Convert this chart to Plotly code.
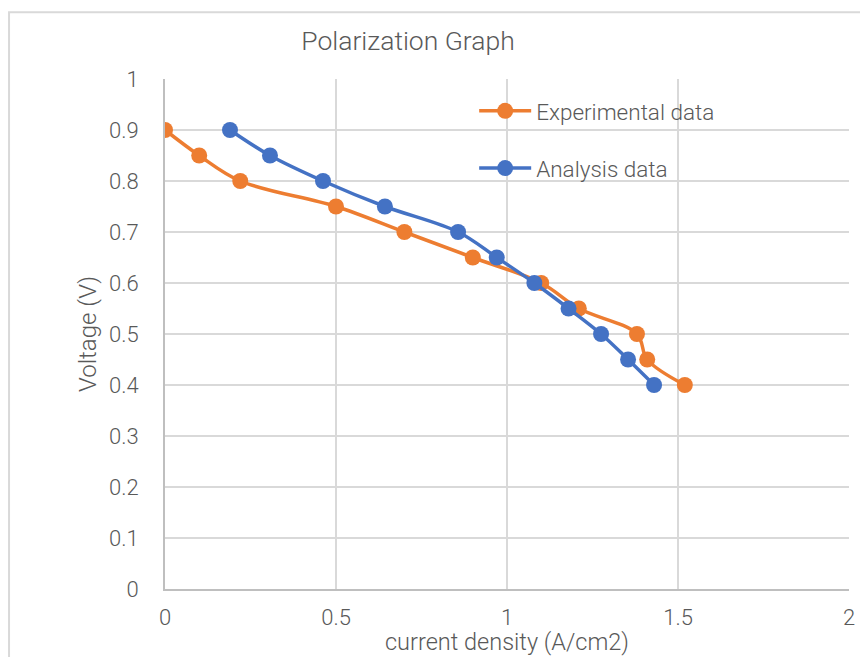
import plotly.graph_objects as go

exp_current = [0.0, 0.10, 0.22, 0.50, 0.70, 0.90, 1.10, 1.21, 1.38, 1.41, 1.52]
exp_voltage = [0.90, 0.85, 0.80, 0.75, 0.70, 0.65, 0.60, 0.55, 0.50, 0.45, 0.40]

# Analysis data
ana_current = [0.19, 0.307, 0.462, 0.643, 0.857, 0.97, 1.08, 1.18, 1.275, 1.354, 1.43]
ana_voltage = [0.90, 0.85, 0.80, 0.75, 0.70, 0.65, 0.60, 0.55, 0.50, 0.45, 0.40]

x_ticks = [0, 0.5, 1, 1.5, 2]
x_labels = ['0', '0.5', '1', '1.5', '2']
y_ticks = [0, 0.1, 0.2, 0.3, 0.4, 0.5, 0.6, 0.7, 0.8, 0.9, 1]
y_labels = ['0', '0.1', '0.2', '0.3', '0.4', '0.5', '0.6', '0.7', '0.8', '0.9', '1']

FONT = "Roboto, sans-serif"
TEXT = '#595959'
ORANGE = '#ED7D31'
BLUE = '#4472C4'

# page has an 8px body margin, so the figure is sized 8px smaller
W, H = 860, 649

fig = go.Figure()

fig.add_trace(go.Scatter(
    x=exp_current, y=exp_voltage,
    mode='lines+markers',
    name='Experimental data',
    legendgroup='exp',
    line=dict(color=ORANGE, width=3.5, shape='spline', smoothing=1),
    marker=dict(color=ORANGE, size=16),
))
fig.add_trace(go.Scatter(
    x=ana_current, y=ana_voltage,
    mode='lines+markers',
    name='Analysis data',
    legendgroup='ana',
    line=dict(color=BLUE, width=3.5, shape='spline', smoothing=1),
    marker=dict(color=BLUE, size=16),
))

# light grey chart-area frame
fig.add_shape(
    type='rect', xref='paper', yref='paper',
    x0=-0.228, x1=1.2, y0=-0.3, y1=1.131,
    line=dict(color='#D9D9D9', width=2), fillcolor='rgba(0,0,0,0)',
    layer='below',
)

# axis titles
fig.add_annotation(
    text='current density (A/cm2)', xref='paper', yref='paper',
    x=0.5, y=-53 / 510, xanchor='center', yanchor='middle', showarrow=False,
    font=dict(size=23.5, color=TEXT, weight=300),
)
fig.add_annotation(
    text='Voltage (V)', xref='paper', yref='paper', textangle=-90,
    x=-77 / 684, y=0.5, xanchor='center', yanchor='middle', showarrow=False,
    font=dict(size=24, color=TEXT, weight=300),
)

fig.update_layout(
    width=W, height=H,
    margin=dict(l=157, r=19, t=71, b=68),
    paper_bgcolor='white', plot_bgcolor='white',
    font=dict(family=FONT, color=TEXT, size=22, weight=300),
    title=dict(text='Polarization Graph', x=400 / W, xref='container', xanchor='center',
               y=1 - 33 / H, yanchor='middle', font=dict(size=26.5, color=TEXT, weight=300)),
    xaxis=dict(
        range=[0, 2], tickmode='array', tickvals=x_ticks, ticktext=x_labels,
        showgrid=True, gridcolor='#D9D9D9', gridwidth=2,
        showline=True, linecolor='#BFBFBF', linewidth=2,
        zeroline=False, ticks='', ticklabelstandoff=8, automargin=False,
    ),
    yaxis=dict(
        range=[0, 1], tickmode='array', tickvals=y_ticks, ticktext=y_labels,
        showgrid=True, gridcolor='#D9D9D9', gridwidth=2,
        showline=True, linecolor='#BFBFBF', linewidth=2,
        zeroline=False, ticks='', ticklabelstandoff=20, automargin=False,
    ),
    legend=dict(
        x=0.452, y=0.979, xanchor='left', yanchor='top',
        bgcolor='rgba(0,0,0,0)', font=dict(size=22.5, color=TEXT, weight=300),
        tracegroupgap=25, itemwidth=52,
    ),
)

fig.write_html("out.html")
